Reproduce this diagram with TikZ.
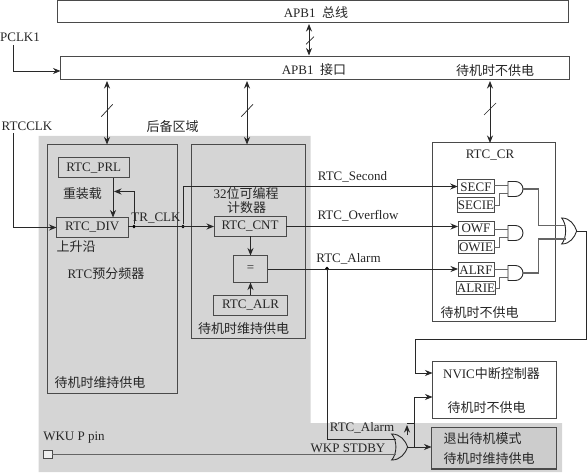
\documentclass[tikz,border=0pt]{standalone}
\usepackage{fontspec}
\setmainfont{Liberation Serif}
\newfontfamily\cjk{Noto Sans CJK SC}
\usetikzlibrary{arrows.meta}
\definecolor{regiongray}{HTML}{D5D5D5}
\definecolor{boxline}{HTML}{4A4A4A}
\definecolor{wireline}{HTML}{282828}
\definecolor{txtcol}{HTML}{262626}
\tikzset{
  boxst/.style={draw=boxline,line width=1pt,inner sep=0pt,outer sep=0pt,text=txtcol,font=\fontsize{13}{14}\selectfont},
  lbl/.style={inner sep=0pt,text=txtcol,font=\fontsize{13}{14}\selectfont},
  wire/.style={draw=wireline,line width=0.9pt},
  grayw/.style={draw=boxline!85,line width=1.1pt},
  tip/.style={wire,-{Stealth[length=7.5pt,width=6pt]}},
  both/.style={wire,{Stealth[length=7.5pt,width=6pt]}-{Stealth[length=7.5pt,width=6pt]}},
  slash/.style={draw=wireline,line width=0.7pt},
  gate/.style={draw=wireline,line width=0.9pt},
  jdot/.style={fill=black,circle,inner sep=0pt,minimum size=3.6pt}
}
% name, x1,y1,x2,y2, style, text
\newcommand{\bx}[7]{\node[boxst,#6,minimum width={(#4-#2)*1pt},minimum height={(#5-#3)*1pt}] (#1) at ({(#2+#4)/2},{(#3+#5)/2}) {#7};}
\newcommand{\lb}[4]{\node[lbl] (#1) at (#2,#3) {#4};}
% AND gate: name, x, y(centre)
\newcommand{\andg}[3]{%
  \draw[gate] (#2,#3-7.5) -- (#2+7.5,#3-7.5) .. controls (#2+11.6,#3-7.5) and (#2+15,#3-4.1) .. (#2+15,#3)
     .. controls (#2+15,#3+4.1) and (#2+11.6,#3+7.5) .. (#2+7.5,#3+7.5) -- (#2,#3+7.5) -- cycle;
  \coordinate (#1-a) at (#2,#3-3.5);
  \coordinate (#1-b) at (#2,#3+4.5);
  \coordinate (#1-o) at (#2+15,#3);}
% OR gate: name, x, y(centre), half height, length, upper input offset, lower input offset
\newcommand{\org}[7]{%
  \draw[gate] (#2,#3-#4) .. controls (#2+0.55*#5,#3-#4) and (#2+0.85*#5,#3-0.5*#4) .. (#2+#5,#3)
     .. controls (#2+0.85*#5,#3+0.5*#4) and (#2+0.55*#5,#3+#4) .. (#2,#3+#4)
     .. controls (#2+0.35*#5,#3+0.5*#4) and (#2+0.35*#5,#3-0.5*#4) .. (#2,#3-#4) -- cycle;
  \coordinate (#1-a) at (#2+3.8,#3-#6);
  \coordinate (#1-b) at (#2+3.8,#3+#7);
  \coordinate (#1-o) at (#2+#5,#3);}
\begin{document}
\begin{tikzpicture}[x=1pt,y=-1pt]
\useasboundingbox (0,0) rectangle (587,473);
% backup region
\fill[regiongray] (38.5,136) -- (310.5,136) -- (310.5,423) -- (562,423) -- (562,472) -- (38.5,472) -- cycle;
% bus and interface
\bx{bus}{57.5}{0.5}{568.5}{23}{fill=white}{}
\bx{ifc}{60.5}{56.5}{569.5}{80}{fill=white}{}
\lb{busT}{316}{13}{APB1\ \ {\cjk 总线}}
\lb{ifcT}{314}{69.5}{APB1\ \ {\cjk 接口}}
\lb{ifcP}{495}{70.5}{\cjk 待机时不供电}
% main boxes
\bx{lbox}{47}{144.5}{177}{393}{}{}
\bx{cbox}{191}{144.5}{305}{338.5}{}{}
\bx{prl}{58}{157.5}{129.5}{178}{}{RTC\_PRL}
\bx{div}{56.5}{217.5}{128}{237.5}{}{RTC\_DIV}
\bx{cnt}{214}{216.5}{286}{236.5}{}{RTC\_CNT}
\bx{eq}{233.5}{255.5}{267.5}{282.5}{}{=}
\bx{alr}{213.5}{295.5}{287.5}{315.5}{}{RTC\_ALR}
% control register
\bx{cr}{432.3}{143}{555}{322}{fill=white}{}
\bx{secf}{457.7}{180}{494.3}{194}{}{SECF}
\bx{secie}{458}{198}{494}{212.7}{}{SECIE}
\bx{owf}{458}{222}{494}{235.5}{}{OWF}
\bx{owie}{458}{240.7}{494}{254}{}{OWIE}
\bx{alrf}{458}{263}{494}{277}{}{ALRF}
\bx{alrie}{458}{281.7}{494}{295}{}{ALRIE}
\bx{nvic}{432.5}{361.7}{556}{418.3}{fill=white}{}
\bx{stby}{431.5}{427.3}{556.5}{469}{fill=black!20,line width=1.4pt}{}
% labels
\lb{pclk}{20}{37}{PCLK1}
\lb{rtcclk}{27}{126}{RTCCLK}
\lb{back}{172.5}{127}{\cjk 后备区域}
\lb{reload}{82.5}{194}{\cjk 重装载}
\lb{rise}{76}{247}{\cjk 上升沿}
\lb{presc}{106}{274}{RTC{\cjk 预分频器}}
\lb{lpow}{100}{383}{\cjk 待机时维持供电}
\lb{bit}{246}{194}{32{\cjk 位可编程}}
\lb{cntr}{246.5}{208}{\cjk 计数器}
\lb{cpow}{243.5}{329}{\cjk 待机时维持供电}
\lb{trclk}{156}{218}{TR\_CLK}
\lb{crT}{490}{155}{RTC\_CR}
\lb{crP}{479.5}{313}{\cjk 待机时不供电}
\lb{sec}{352.5}{177}{RTC\_Second}
\lb{ovf}{358}{216}{RTC\_Overflow}
\lb{alm}{348.5}{258.5}{RTC\_Alarm}
\lb{alm2}{362}{428}{RTC\_Alarm}
\lb{wkp}{348}{448}{WKP STDBY}
\lb{wku}{74}{438}{WKU P pin}
\lb{nvT}{491.5}{374}{NVIC{\cjk 中断控制器}}
\lb{nvP}{486.5}{408}{\cjk 待机时不供电}
\lb{stT}{482.5}{439}{\cjk 退出待机模式}
\lb{stP}{489}{459}{\cjk 待机时维持供电}
% pin
\bx{pin}{43}{450}{52}{458.7}{fill=regiongray!40}{}
% bus arrows
\coordinate (xa) at (107,0); \coordinate (xb) at (247,0);
\coordinate (xc) at (490,0); \coordinate (xd) at (309,0);
\draw[both] ([yshift=-1pt]bus.south -| xd) -- ([yshift=1pt]ifc.north -| xd);
\draw[both] ([yshift=-1pt]ifc.south -| xa) -- (lbox.north -| xa);
\draw[both] ([yshift=-1pt]ifc.south -| xb) -- (cbox.north -| xb);
\draw[both] ([yshift=-1pt]ifc.south -| xc) -- (cr.north -| xc);
\draw[slash] (306,44.3) -- (314,36.7);
\draw[slash] (101.3,116.7) -- (112.7,104.3);
\draw[slash] (241.3,116.7) -- (253,104.3);
\draw[slash] (484,115) -- (496,103);
% clocks
\coordinate (pc) at (13.5,45);
\coordinate (rc) at (13.5,133);
\coordinate (y71) at (0,71);
\draw[tip] (pc) |- (ifc.west |- y71);
\draw[tip] (rc) |- (div.west);
\node[jdot] (j1) at (134,226.5) {};
\node[jdot] (j2) at (183,226.5) {};
\node[jdot] (j3) at (327,268.5) {};
\coordinate (x113) at (113,0);
\draw[tip] (prl.south -| x113) -- (div.north -| x113);
\draw[wire] (div.east |- j1) -- (j1);
\coordinate (fb) at (114,191.5);
\draw[tip] (j1) |- (fb);
\draw[tip] (j1) -- (cnt.west |- j1);
\coordinate (up) at (183,186.5);
\draw[tip] (j2) -- (up) -- (secf.west |- up);
\draw[tip] (cnt.east |- j1) -- (owf.west |- j1);
\draw[tip] (cnt.south -| eq) -- (eq.north);
\draw[tip] (alr.north -| eq) -- (eq.south);
\draw[tip] (eq.east) -- (alrf.west |- eq.east);
% AND gates
\andg{ga}{508}{189}
\andg{gb}{508}{233}
\andg{gc}{508}{273}
\coordinate (x499) at (499.3,0);
\draw[grayw] (secf.east |- ga-a) -- (ga-a);
\draw[grayw] (secie.east) -| (x499 |- ga-b) -- (ga-b);
\draw[grayw] (owf.east |- gb-a) -- (gb-a);
\draw[grayw] (owie.east) -| (x499 |- gb-b) -- (gb-b);
\draw[grayw] (alrf.east |- gc-a) -- (gc-a);
\draw[grayw] (alrie.east) -| (x499 |- gc-b) -- (gc-b);
% big OR gate
\org{gd}{561.7}{231}{13}{15}{5.3}{8}
\coordinate (mx) at (538.3,0);
\draw[grayw] (ga-o) -| (mx |- gd-a) -- (gd-a);
\draw[grayw] (gc-o) -| (mx |- gd-b) -- (gd-b);
\coordinate (e1) at (586.7,339);
\coordinate (e2) at (415,339);
\coordinate (y373) at (0,373);
\coordinate (y397) at (0,397);
\draw[tip] (gd-o) -| (e1) -- (e2) |- (nvic.west |- y373);
% wake-up OR gate
\org{ge}{391.7}{447}{13}{16}{8}{8}
\draw[wire] (j3) |- (ge-a);
\draw[grayw] (pin.east) -- (pin.east -| ge-b) -- (ge-b);
\coordinate (j4) at (414,447);
\draw[tip] (ge-o) -- (stby.west |- ge-o);
\draw[tip] (j4) |- (nvic.west |- y397);
\coordinate (sa) at (407,435);
\coordinate (sb) at (407,423);
\coordinate (sc) at (414,423);
\draw[tip] (sa) -- (407,425);
\draw[wire] (sb) -- (sc);
\end{tikzpicture}
\end{document}
